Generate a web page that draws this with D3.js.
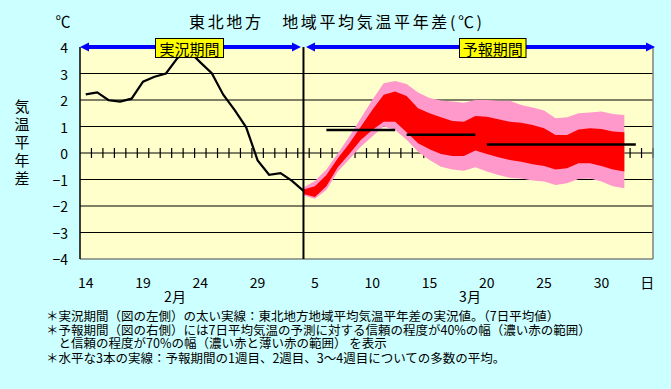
<!DOCTYPE html>
<html>
<head>
<meta charset="utf-8">
<script src="https://cdn.jsdelivr.net/npm/d3@7"></script>
<style>
  body { margin: 0; background: #ccffff; }
  text { font-family: "Noto Sans CJK JP", "Noto Sans", sans-serif; fill: #000; }
</style>
</head>
<body>
<div id="chart"></div>
<script>

// days Feb 14 .. Apr 2 (one category per day)
var days = [14,15,16,17,18,19,20,21,22,23,24,25,26,27,28,29,
            1,2,3,4,5,6,7,8,9,10,11,12,13,14,15,16,17,18,19,20,21,22,23,24,25,26,27,28,29,30,31,
            1,2,3];
var xTickIdx = [0,5,10,15,20,25,30,35,40,45];
var yTicks = [4,3,2,1,0,-1,-2,-3,-4];

// observed 7-day mean anomaly (Feb 14 .. Mar 4)
var observed = [2.21,2.29,1.99,1.94,2.05,2.69,2.88,3.0,3.58,3.85,3.42,3.01,2.2,1.62,0.97,-0.28,-0.82,-0.76,-1.05,-1.43];

// forecast bands (Mar 4 .. Apr 1), start index 19
var fcStart = 19;
var pinkHi = [-1.30,-1.06,-0.62,-0.01,0.62,1.31,2.0,2.63,2.72,2.6,2.28,2.08,1.98,1.94,1.90,2.0,2.0,1.97,1.97,1.81,1.72,1.60,1.31,1.35,1.50,1.53,1.57,1.47,1.43];
var redHi  = [-1.38,-1.25,-0.83,-0.20,0.36,0.99,1.62,2.2,2.32,2.15,1.69,1.50,1.35,1.21,1.18,1.40,1.37,1.27,1.18,1.14,1.06,0.93,0.68,0.68,0.89,0.93,0.91,0.81,0.78];
var redLo  = [-1.55,-1.66,-1.25,-0.54,-0.04,0.49,0.87,1.18,1.18,0.78,0.37,0.14,-0.04,-0.11,-0.11,0.09,-0.04,-0.16,-0.26,-0.33,-0.42,-0.49,-0.62,-0.58,-0.39,-0.39,-0.49,-0.62,-0.70];
var pinkLo = [-1.60,-1.73,-1.40,-0.70,-0.24,0.24,0.62,1.0,0.87,0.50,0.05,-0.26,-0.52,-0.62,-0.67,-0.54,-0.70,-0.83,-0.93,-0.96,-1.04,-1.08,-1.21,-1.14,-0.98,-0.96,-1.08,-1.25,-1.33];

// ensemble mean for week1, week2, week3-4
var weekFrom = [21,28,35];
var weekTo   = [27,34,48];
var weekMean = [0.87,0.69,0.32];

var notes = [
  "＊実況期間（図の左側）の太い実線：東北地方地域平均気温平年差の実況値。（7日平均値）",
  "＊予報期間（図の右側）には7日平均気温の予測に対する信頼の程度が40%の幅（濃い赤の範囲）",
  "　と信頼の程度が70%の幅（濃い赤と薄い赤の範囲） を表示",
  "＊水平な3本の実線：予報期間の1週目、2週目、3〜4週目についての多数の平均。"
];

var W = 671, H = 389;
var pL = 80, pR = 653, pT = 47, pB = 259;

var svg = d3.select("#chart").append("svg")
    .attr("width", W).attr("height", H);

svg.append("rect").attr("width", W).attr("height", H).attr("fill", "#ccffff");

var x = d3.scaleBand().domain(d3.range(days.length)).range([pL, pR]);
var bw = x.bandwidth();
function cx(i) { return x(i) + bw / 2; }
var y = d3.scaleLinear().domain([-4, 4]).range([pB, pT]);

// plot area
svg.append("rect")
    .attr("x", pL).attr("y", pT)
    .attr("width", pR - pL).attr("height", pB - pT)
    .attr("fill", "#ffffcc");

// grid lines
svg.append("g").selectAll("line")
    .data(yTicks.filter(function(d) { return d != 4 && d != -4; }))
    .enter().append("line")
    .attr("x1", pL).attr("x2", pR)
    .attr("y1", function(d) { return y(d); })
    .attr("y2", function(d) { return y(d); })
    .attr("stroke", "#000").attr("stroke-width", 1.2);

// small ticks on the zero line
svg.append("g").selectAll("line")
    .data(d3.range(1, days.length + 1))
    .enter().append("line")
    .attr("x1", function(k) { return pL + k * bw; })
    .attr("x2", function(k) { return pL + k * bw; })
    .attr("y1", y(0) - 5).attr("y2", y(0) + 5)
    .attr("stroke", "#000").attr("stroke-width", 1.2);

// forecast bands
var fc = d3.range(pinkHi.length);
function band(hi, lo) {
  return d3.area()
    .x(function(j) { return cx(fcStart + j); })
    .y0(function(j) { return y(lo[j]); })
    .y1(function(j) { return y(hi[j]); });
}
svg.append("path").datum(fc).attr("d", band(pinkHi, pinkLo)).attr("fill", "#ff99cc");
svg.append("path").datum(fc).attr("d", band(redHi, redLo)).attr("fill", "#ff0000");

// observed line
svg.append("path")
    .datum(observed)
    .attr("d", d3.line()
      .x(function(d, i) { return cx(i); })
      .y(function(d) { return y(d); }))
    .attr("fill", "none").attr("stroke", "#000").attr("stroke-width", 2.2);

// weekly mean lines
svg.append("g").selectAll("line")
    .data(weekMean)
    .enter().append("line")
    .attr("x1", function(d, i) { return cx(weekFrom[i]); })
    .attr("x2", function(d, i) { return cx(weekTo[i]); })
    .attr("y1", function(d) { return y(d); })
    .attr("y2", function(d) { return y(d); })
    .attr("stroke", "#000").attr("stroke-width", 2.5);

// frame
svg.append("line").attr("x1", pL).attr("x2", pR).attr("y1", pB).attr("y2", pB)
    .attr("stroke", "#808080").attr("stroke-width", 1.5);
svg.append("line").attr("x1", pR).attr("x2", pR).attr("y1", pT).attr("y2", pB)
    .attr("stroke", "#808080").attr("stroke-width", 1.5);
svg.append("line").attr("x1", pL).attr("x2", pL).attr("y1", pT).attr("y2", pB)
    .attr("stroke", "#000").attr("stroke-width", 1.5);

// today separator
var sep = cx(fcStart);
svg.append("line").attr("x1", sep).attr("x2", sep).attr("y1", pT).attr("y2", pB)
    .attr("stroke", "#000").attr("stroke-width", 2);

// blue period arrows
function arrow(x0, x1) {
  var yy = y(4);
  svg.append("line").attr("x1", x0 + 6).attr("x2", x1 - 6).attr("y1", yy).attr("y2", yy)
      .attr("stroke", "#0000ff").attr("stroke-width", 4);
  svg.append("path")
      .attr("d", "M" + x0 + "," + yy + "L" + (x0 + 9) + "," + (yy - 4.5) + "L" + (x0 + 9) + "," + (yy + 4.5) + "Z")
      .attr("fill", "#0000ff");
  svg.append("path")
      .attr("d", "M" + x1 + "," + yy + "L" + (x1 - 9) + "," + (yy - 4.5) + "L" + (x1 - 9) + "," + (yy + 4.5) + "Z")
      .attr("fill", "#0000ff");
}
arrow(pL, sep - 2.5);
arrow(sep + 2.5, pR + 2);

// period labels
function tag(x0, x1, label) {
  svg.append("rect").attr("x", x0).attr("y", 38.5).attr("width", x1 - x0).attr("height", 19)
      .attr("fill", "#ffff00").attr("stroke", "#000").attr("stroke-width", 1);
  svg.append("text").attr("x", (x0 + x1) / 2).attr("y", 48.5)
      .attr("text-anchor", "middle").attr("dominant-baseline", "central")
      .style("font-size", "15px").text(label);
}
tag(155.5, 223.5, "実況期間");
tag(459.5, 526, "予報期間");

// y tick labels
svg.append("g").selectAll("text")
    .data(yTicks)
    .enter().append("text")
    .attr("x", 68).attr("y", function(d) { return y(d); })
    .attr("text-anchor", "end").attr("dominant-baseline", "central")
    .style("font-size", "14px")
    .text(function(d) { return d < 0 ? "−" + (-d) : d; });

// x tick labels
svg.append("g").selectAll("text")
    .data(xTickIdx)
    .enter().append("text")
    .attr("x", function(i) { return cx(i); }).attr("y", 282)
    .attr("text-anchor", "middle").attr("dominant-baseline", "central")
    .style("font-size", "14px")
    .text(function(i) { return days[i]; });
svg.append("text").attr("x", cx(days.length - 1)).attr("y", 282)
    .attr("text-anchor", "middle").attr("dominant-baseline", "central")
    .style("font-size", "14px").text("日");
svg.append("text").attr("x", 175).attr("y", 296)
    .attr("text-anchor", "middle").attr("dominant-baseline", "central")
    .style("font-size", "14px").text("2月");
svg.append("text").attr("x", 470).attr("y", 296)
    .attr("text-anchor", "middle").attr("dominant-baseline", "central")
    .style("font-size", "14px").text("3月");

// title and units
svg.append("text").attr("x", 189).attr("y", 21)
    .attr("dominant-baseline", "central")
    .attr("textLength", 293).attr("lengthAdjust", "spacing")
    .style("font-size", "16px")
    .text("東北地方　地域平均気温平年差(℃)");
svg.append("text").attr("x", 63).attr("y", 20)
    .attr("text-anchor", "middle").attr("dominant-baseline", "central")
    .style("font-size", "15px").text("℃");

// vertical y title
svg.append("g").selectAll("text")
    .data("気温平年差".split(""))
    .enter().append("text")
    .attr("x", 22).attr("y", function(d, i) { return 105 + i * 18; })
    .attr("text-anchor", "middle").attr("dominant-baseline", "central")
    .style("font-size", "15px")
    .text(function(d) { return d; });

// notes
svg.append("g").selectAll("text")
    .data(notes)
    .enter().append("text")
    .attr("x", 46).attr("y", function(d, i) { return [315, 329, 342, 357][i]; })
    .attr("dominant-baseline", "central")
    .style("font-size", "12.5px")
    .text(function(d) { return d; });

</script>
</body>
</html>
